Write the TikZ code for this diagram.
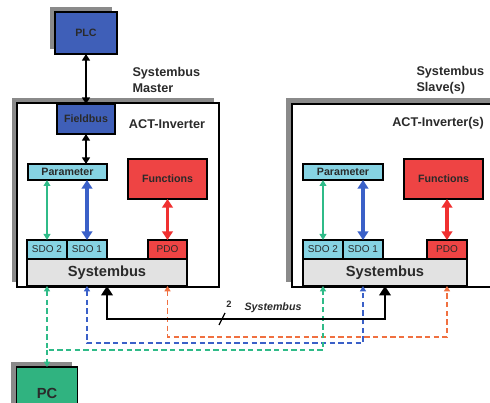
\documentclass[tikz,border=0pt]{standalone}
\usepackage{fontspec}
\setmainfont{Liberation Sans}
\usetikzlibrary{arrows.meta}

\definecolor{plcblue}{HTML}{3F5FB8}
\definecolor{paracyan}{HTML}{86D3E3}
\definecolor{funcred}{HTML}{EE4444}
\definecolor{pcgreen}{HTML}{30B380}
\definecolor{busgray}{HTML}{E2E2E2}
\definecolor{shadowgray}{HTML}{8A8A8A}
\definecolor{grnline}{HTML}{2FBB88}
\definecolor{bluline}{HTML}{3A60C8}
\definecolor{redline}{HTML}{F03030}
\definecolor{orgline}{HTML}{F07040}
\definecolor{txtdark}{HTML}{2A2A2A}

\tikzset{every picture/.style={line width=0.75pt}}
\tikzset{
  box/.style={draw=black,line width=1.2pt,inner sep=0pt,outer sep=0pt,text=txtdark,font=\bfseries\fontsize{8}{9}\selectfont},
  sdobox/.style={box,fill=paracyan,minimum height=14.25pt,font=\fontsize{7.5}{9}\selectfont},
  busbox/.style={box,fill=busgray,minimum height=20.25pt,font=\bfseries\fontsize{11}{12}\selectfont},
  tip/.style={Triangle[width=#1,length=0.8*#1]},
  plcarr/.style={{Triangle[width=6pt,length=5pt]}-{Triangle[width=6pt,length=5pt]},line width=1.5pt},
  grnarr/.style={{Triangle[width=5pt,length=4.5pt]}-{Triangle[width=5pt,length=4.5pt]},grnline,line width=1.2pt},
  bluarr/.style={{Triangle[width=8pt,length=6.5pt]}-{Triangle[width=8pt,length=6.5pt]},bluline,line width=2.4pt},
  redarr/.style={{Triangle[width=8pt,length=6.5pt]}-{Triangle[width=8pt,length=6.5pt]},redline,line width=2.4pt},
  busarr/.style={{Triangle[width=8.5pt,length=7pt]}-{Triangle[width=8.5pt,length=7pt]},line width=2.2pt},
  dashln/.style={{Triangle[width=4.5pt,length=4pt]}-{Triangle[width=4.5pt,length=4pt]},line width=1.1pt,dash pattern=on 4pt off 2.5pt},
  note/.style={inner sep=0.75pt,text=txtdark,font=\bfseries\fontsize{9.5}{12}\selectfont}
}

\begin{document}
\begin{tikzpicture}[x=0.75pt,y=0.75pt,yscale=-1,xscale=1]
	\useasboundingbox (0,0) rectangle (490,403);

	%Shape: Shadows
	\fill [shadowgray] (50,7) rectangle (112,49) ;
	\fill [shadowgray] (12,98) rectangle (214,282) ;
	\fill [shadowgray] (286,98) rectangle (500,282) ;
	\fill [shadowgray] (11,362) rectangle (72,420) ;
	%Shape: Rectangle (master)
	\draw [line width=2pt,fill=white] (17,103) rectangle (219,287) ;
	%Shape: Rectangle (slave)
	\draw [line width=2pt,fill=white] (292,104) rectangle (510,287) ;

	% PLC and PC
	\draw (86,33) node [box,fill=plcblue,minimum width=46.5pt,minimum height=31.5pt] (plc) {PLC};
	\draw (47,393) node [box,fill=pcgreen,minimum width=45.75pt,minimum height=39pt,font=\bfseries\fontsize{11}{12}\selectfont] (pc) {PC};

	% Master blocks
	\draw (86,119) node [box,fill=plcblue,minimum width=43.5pt,minimum height=22.5pt] (fbus) {Fieldbus};
	\draw (67.5,172) node [box,fill=paracyan,minimum width=59.25pt,minimum height=12pt] (para) {Parameter};
	\draw (167.5,179) node [box,fill=funcred,minimum width=59.25pt,minimum height=30pt] (func) {Functions};
	\draw (47,249.5) node [sdobox,minimum width=30pt] (sdo2) {SDO 2};
	\draw (87,249.5) node [sdobox,minimum width=30pt] (sdo1) {SDO 1};
	\draw (167.5,249.5) node [sdobox,fill=funcred,minimum width=29.25pt] (pdo) {PDO};
	\draw (107,272.5) node [busbox,minimum width=120pt] (sysm) {Systembus};

	% Slave blocks
	\draw (343,172) node [box,fill=paracyan,minimum width=60pt,minimum height=12pt] (paras) {Parameter};
	\draw (443.5,179) node [box,fill=funcred,minimum width=59.25pt,minimum height=30pt] (funcs) {Functions};
	\draw (323,249.5) node [sdobox,minimum width=30pt] (sdo2s) {SDO 2};
	\draw (363,249.5) node [sdobox,minimum width=30pt] (sdo1s) {SDO 1};
	\draw (447,249.5) node [sdobox,fill=funcred,minimum width=30pt] (pdos) {PDO};
	\draw (385,272.5) node [busbox,minimum width=123pt] (syss) {Systembus};

	% Text Node
	\draw (131,80) node [note,anchor=west,align=left] (mlab) {Systembus\\Master};
	% Text Node
	\draw (167,124) node [note] (mact) {ACT-Inverter};
	% Text Node
	\draw (415,80) node [note,anchor=west,align=left] (slab) {Systembus\\Slave(s)};
	% Text Node
	\draw (438,123) node [note] (sact) {ACT-Inverter(s)};

	%Straight Lines (inside)
	\draw [plcarr] (plc.south -| fbus.north) -- (fbus.north) ;
	\draw [plcarr] (fbus.south) -- (fbus.south |- para.north) ;
	\draw [grnarr] (sdo2.north |- para.south) -- (sdo2.north) ;
	\draw [bluarr] (sdo1.north |- para.south) -- (sdo1.north) ;
	\draw [redarr] (func.south) -- (pdo.north) ;
	\draw [grnarr] (sdo2s.north |- paras.south) -- (sdo2s.north) ;
	\draw [bluarr] (sdo1s.north |- paras.south) -- (sdo1s.north) ;
	\draw [redarr] (funcs.south -| pdos.north) -- (pdos.north) ;

	% bus levels
	\coordinate (ky) at (0,319) ;
	\coordinate (ry) at (0,337) ;
	\coordinate (by) at (0,343) ;
	\coordinate (gy) at (0,350) ;

	%Dashed Lines
	\draw [dashln,orgline] (pdo.south |- sysm.south) -- (pdo.south |- ry) -| (pdos.south |- syss.south) ;
	\draw [dashln,bluline] (sdo1.south |- sysm.south) -- (sdo1.south |- by) -| (sdo1s.south |- syss.south) ;
	\draw [dashln,grnline] (sdo2.south |- sysm.south) -- (sdo2.south |- gy) -| (sdo2s.south |- syss.south) ;
	\draw [dashln,grnline,{Circle[length=0pt]}-{Triangle[width=4.5pt,length=4pt]}] (sdo2.south |- gy) -- (sdo2.south |- pc.north) ;

	%Systembus line
	\draw [busarr] (sysm.south) -- (sysm.south |- ky) -| (syss.south) ;
	\draw [line width=0.9pt] (219,325) -- (225,313) ;
	% Text Node
	\draw (229,304) node [inner sep=0.75pt,text=txtdark,font=\bfseries\fontsize{7}{8}\selectfont] (two) {2};
	% Text Node
	\draw (273,308) node [inner sep=0.75pt,text=txtdark,font=\bfseries\itshape\fontsize{8}{9}\selectfont] (blab) {Systembus};

\end{tikzpicture}
\end{document}
